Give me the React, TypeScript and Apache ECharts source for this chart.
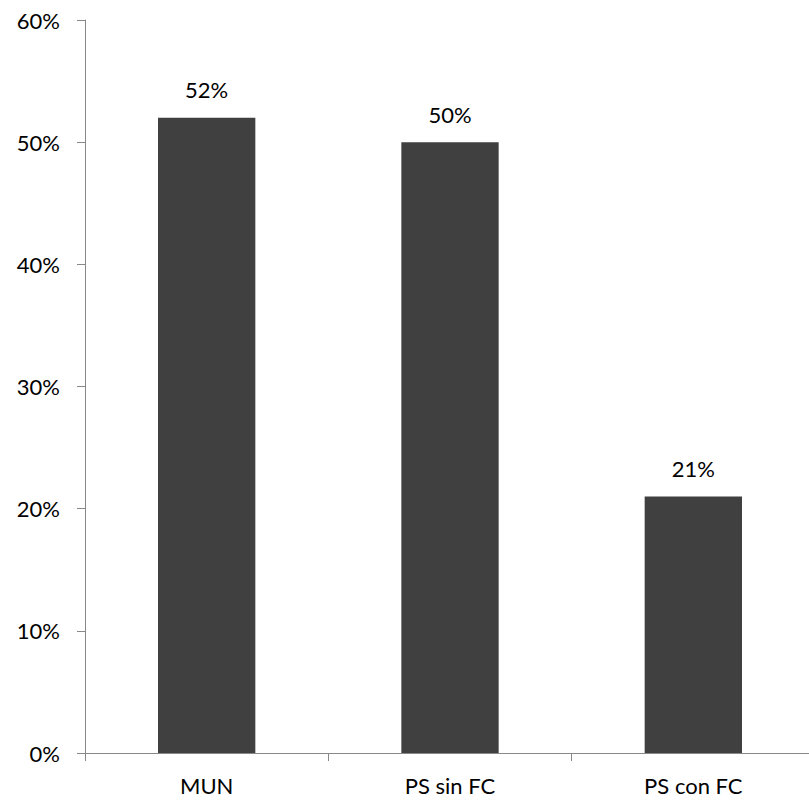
import React, { useEffect, useRef } from "react";
import * as echarts from "echarts";

const categories = ["MUN", "PS sin FC", "PS con FC"];
const values = [52, 50, 21];
const yTicks = [0, 10, 20, 30, 40, 50, 60];

export default function App() {
  const ref = useRef<HTMLDivElement>(null);
  useEffect(() => {
    if (!ref.current) return;
    const chart = echarts.init(ref.current, null, { renderer: "svg" });
    const font = "Lato, 'Open Sans', sans-serif";
    chart.setOption({
      animation: false,
      textStyle: { fontFamily: font },
      grid: { left: 85, right: 0, top: 20, bottom: 48, containLabel: false },
      xAxis: {
        type: "category",
        data: categories,
        axisLine: { show: true, lineStyle: { color: "#888888", width: 1 } },
        axisTick: { show: true, length: 8, alignWithLabel: false, lineStyle: { color: "#888888" } },
        axisLabel: { color: "#000", fontSize: 22, fontFamily: font, margin: 21 },
        splitLine: { show: false },
      },
      yAxis: {
        type: "value",
        min: yTicks[0],
        max: yTicks[yTicks.length - 1],
        interval: 10,
        axisLine: { show: true, lineStyle: { color: "#888888", width: 1 } },
        axisTick: { show: true, length: 8, lineStyle: { color: "#888888" } },
        axisLabel: {
          color: "#000",
          fontSize: 22,
          fontFamily: font,
          margin: 25,
          formatter: (v: number) => `${v}%`,
        },
        splitLine: { show: false },
      },
      series: [
        {
          type: "bar",
          data: values,
          barWidth: "40%",
          itemStyle: { color: "#404040" },
          label: {
            show: true,
            position: "top",
            distance: 17,
            color: "#000",
            fontSize: 22,
            fontFamily: font,
            formatter: (p: any) => `${p.value}%`,
          },
        },
      ],
    });
    return () => chart.dispose();
  }, []);
  return (
    <div
      style={{
        position: "absolute",
        left: 0,
        top: 0,
        width: 809,
        height: 801,
        overflow: "hidden",
      }}
    >
      <div ref={ref} style={{ width: 815, height: 801 }} />
    </div>
  );
}
